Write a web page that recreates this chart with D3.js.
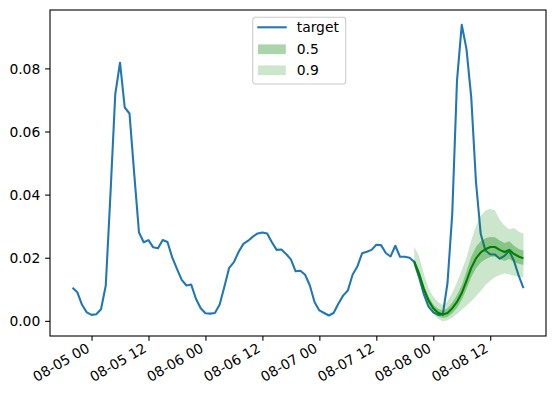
<!DOCTYPE html>
<html>
<head>
<meta charset="utf-8">
<script src="https://cdn.jsdelivr.net/npm/d3@7/dist/d3.min.js"></script>
<style>
  html, body { margin: 0; padding: 0; background: #fff; }
  svg text { font-family: "DejaVu Sans", sans-serif; font-size: 13.89px; fill: #000; }
</style>
</head>
<body>
<div id="chart"></div>
<script>
// hourly index
const START      = new Date(Date.UTC(2021, 7, 4, 20));   // 08-04 20:00
const END        = new Date(Date.UTC(2021, 7, 8, 19));   // 08-08 19:00
const FC_START   = new Date(Date.UTC(2021, 7, 7, 20));   // start of forecast

// observed series
const target = [
  0.0105, 0.0091, 0.0051, 0.0027, 0.0019, 0.0021, 0.0037, 0.0112, 0.0405, 0.0718,
  0.0818, 0.0676, 0.0657, 0.0465, 0.0280, 0.0249, 0.0256, 0.0233, 0.0230, 0.0256,
  0.0250, 0.0201, 0.0165, 0.0130, 0.0112, 0.0115, 0.0070, 0.0040, 0.0024, 0.0023,
  0.0025, 0.0052, 0.0109, 0.0168, 0.0186, 0.0219, 0.0244, 0.0254, 0.0267, 0.0277,
  0.0280, 0.0277, 0.0249, 0.0225, 0.0226, 0.0212, 0.0195, 0.0157, 0.0159, 0.0146,
  0.0112, 0.0059, 0.0033, 0.0025, 0.0017, 0.0025, 0.0054, 0.0080, 0.0096, 0.0146,
  0.0172, 0.0214, 0.0219, 0.0225, 0.0241, 0.0240, 0.0215, 0.0204, 0.0238, 0.0203,
  0.0203, 0.0200, 0.0187, 0.0138, 0.0085, 0.0045, 0.0027, 0.0019, 0.0020, 0.0120,
  0.0340, 0.0761, 0.0938, 0.0861, 0.0708, 0.0440, 0.0275, 0.0223, 0.0211, 0.0210,
  0.0197, 0.0206, 0.0222, 0.0190, 0.0143, 0.0104
];

// forecast quantiles (24 hours)
const median = [
  0.0187, 0.0150, 0.0102, 0.0065, 0.0040, 0.0026, 0.0020, 0.0025, 0.0040, 0.0060,
  0.0088, 0.0127, 0.0168, 0.0198, 0.0217, 0.0227, 0.0234, 0.0234, 0.0225, 0.0218,
  0.0225, 0.0212, 0.0204, 0.0198
];
const q25 = [
  0.0178, 0.0139, 0.0090, 0.0053, 0.0029, 0.0015, 0.0009, 0.0012, 0.0024, 0.0041,
  0.0066, 0.0100, 0.0138, 0.0167, 0.0185, 0.0195, 0.0202, 0.0204, 0.0196, 0.0190,
  0.0196, 0.0186, 0.0181, 0.0177
];
const q75 = [
  0.0196, 0.0162, 0.0114, 0.0077, 0.0052, 0.0038, 0.0033, 0.0040, 0.0058, 0.0082,
  0.0113, 0.0157, 0.0203, 0.0235, 0.0252, 0.0262, 0.0266, 0.0265, 0.0255, 0.0247,
  0.0252, 0.0238, 0.0228, 0.0223
];
const q05 = [
  0.0170, 0.0135, 0.0085, 0.0045, 0.0022, 0.0007, -0.0001, 0.0002, 0.0010, 0.0022,
  0.0035, 0.0048, 0.0062, 0.0078, 0.0095, 0.0113, 0.0127, 0.0138, 0.0145, 0.0150,
  0.0148, 0.0143, 0.0140, 0.0137
];
const q95 = [
  0.0235, 0.0205, 0.0150, 0.0103, 0.0077, 0.0060, 0.0050, 0.0062, 0.0088, 0.0122,
  0.0160, 0.0200, 0.0255, 0.0300, 0.0333, 0.0350, 0.0355, 0.0350, 0.0320, 0.0302,
  0.0290, 0.0294, 0.0282, 0.0277
];

const yTicks       = [0, 0.02, 0.04, 0.06, 0.08];
const legendLabels = ['target', '0.5', '0.9'];

const W = 556, H = 399;
const margin = { top: 10, left: 50, right: 10, bottom: 63 };
const BLUE  = '#1f77b4';
const GREEN = '#008000';

const times   = d3.utcHour.range(START, d3.utcHour.offset(END, 1));
const fcTimes = d3.utcHour.range(FC_START, d3.utcHour.offset(END, 1));

const svg = d3.select('#chart').append('svg')
  .attr('width', W)
  .attr('height', H);

// matplotlib-like 5% margins
const tPad = (END - START) * 0.05;
const x = d3.scaleUtc()
  .domain([new Date(+START - tPad), new Date(+END + tPad)])
  .range([margin.left, W - margin.right]);

const allY = target.concat(q05, q95);
const yMin = d3.min(allY), yMax = d3.max(allY);
const yPad = (yMax - yMin) * 0.05;
const y = d3.scaleLinear()
  .domain([yMin - yPad, yMax + yPad])
  .range([H - margin.bottom, margin.top]);

const line = d3.line().x(d => x(d[0])).y(d => y(d[1]));
const area = d3.area().x(d => x(d[0])).y0(d => y(d[1])).y1(d => y(d[2]));

// target
svg.append('path')
  .datum(times.map((t, i) => [t, target[i]]))
  .attr('d', line)
  .attr('fill', 'none')
  .attr('stroke', BLUE)
  .attr('stroke-width', 2.08)
  .attr('stroke-linejoin', 'round');

// intervals
svg.append('path')
  .datum(fcTimes.map((t, i) => [t, q25[i], q75[i]]))
  .attr('d', area)
  .attr('fill', GREEN)
  .attr('fill-opacity', 0.5 - 0.5 / 3);

svg.append('path')
  .datum(fcTimes.map((t, i) => [t, q05[i], q95[i]]))
  .attr('d', area)
  .attr('fill', GREEN)
  .attr('fill-opacity', 0.5 - 0.9 / 3);

// median
svg.append('path')
  .datum(fcTimes.map((t, i) => [t, median[i]]))
  .attr('d', line)
  .attr('fill', 'none')
  .attr('stroke', GREEN)
  .attr('stroke-width', 2.08)
  .attr('stroke-linejoin', 'round');

// axes
const x0 = margin.left, x1 = W - margin.right;
const y0 = H - margin.bottom, y1 = margin.top;

const xAxis = svg.append('g')
  .attr('transform', `translate(0,${y0})`)
  .call(d3.axisBottom(x)
    .tickValues(d3.utcHour.every(12).range(x.domain()[0], x.domain()[1]))
    .tickSize(4.86)
    .tickPadding(0)
    .tickFormat(d3.utcFormat('%m-%d %H')));
xAxis.select('.domain').remove();
xAxis.selectAll('.tick line').attr('stroke', '#000').attr('stroke-width', 1.1);
xAxis.selectAll('.tick text')
  .attr('text-anchor', 'end')
  .attr('y', 0)
  .attr('dy', 0)
  .attr('transform', 'translate(-1.5,15) rotate(-30)');

const yAxis = svg.append('g')
  .attr('transform', `translate(${x0},0)`)
  .call(d3.axisLeft(y)
    .tickValues(yTicks)
    .tickSize(4.86)
    .tickPadding(4.86)
    .tickFormat(d3.format('.2f')));
yAxis.select('.domain').remove();
yAxis.selectAll('.tick line').attr('stroke', '#000').attr('stroke-width', 1.1);
yAxis.selectAll('.tick text').attr('dy', '0.34em');
svg.selectAll('.tick text').style('font-family', '"DejaVu Sans", sans-serif').style('font-size', '13.89px');

// frame
svg.append('rect')
  .attr('x', x0).attr('y', y1)
  .attr('width', x1 - x0).attr('height', y0 - y1)
  .attr('fill', 'none')
  .attr('stroke', '#000')
  .attr('stroke-width', 1.1);

// legend
const lg = svg.append('g').attr('transform', 'translate(252.7,17.3)');
lg.append('rect')
  .attr('width', 93).attr('height', 66.7)
  .attr('rx', 2.8)
  .attr('fill', '#fff').attr('fill-opacity', 0.8)
  .attr('stroke', '#cccccc').attr('stroke-width', 1.1);

const items = lg.selectAll('g.item')
  .data(legendLabels)
  .enter().append('g')
  .attr('class', 'item')
  .attr('transform', (d, i) => `translate(0,${10 + i * 21})`);

items.filter((d, i) => i === 0).append('line')
  .attr('x1', 4.6).attr('x2', 34)
  .attr('stroke', BLUE).attr('stroke-width', 2.08);

items.filter((d, i) => i > 0).append('rect')
  .attr('x', 5.3).attr('y', -3.9)
  .attr('width', 27.8).attr('height', 9.7)
  .attr('fill', GREEN)
  .attr('fill-opacity', (d, i) => i === 0 ? 0.5 - 0.5 / 3 : 0.5 - 0.9 / 3);

items.append('text')
  .attr('x', 44)
  .attr('y', (d, i) => i === 0 ? 0 : 1)
  .attr('dy', '0.35em')
  .text(d => d);
</script>
</body>
</html>
